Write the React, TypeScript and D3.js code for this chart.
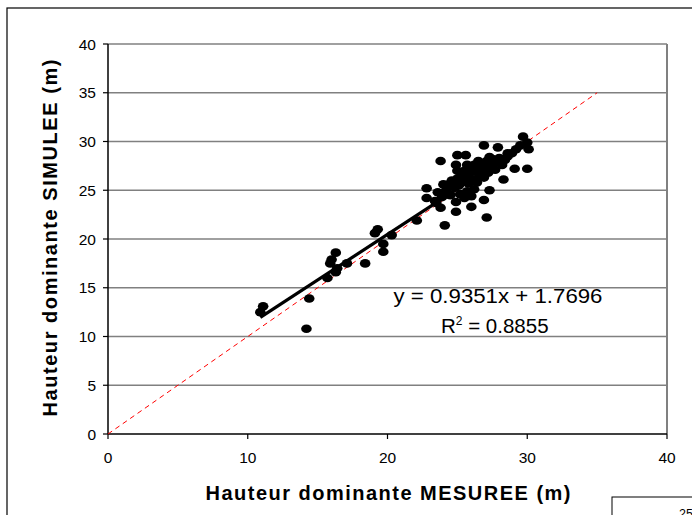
import React from "react";
import * as d3 from "d3";

const xTicks = [0, 10, 20, 30, 40];
const yTicks = [0, 5, 10, 15, 20, 25, 30, 35, 40];

const measured = [
  10.9, 11.1, 14.2, 14.4, 15.7, 16.3, 16.4, 15.9, 16.0, 16.3, 17.1, 18.4,
  19.7, 19.7, 19.1, 19.3, 20.3, 22.1, 22.8, 22.8, 23.5, 23.6, 23.8, 24.1,
  24.9, 26.0, 27.1, 26.9, 27.3, 28.3, 29.1, 30.0, 28.6, 24.9, 23.8, 25.0,
  25.6, 26.9, 27.9, 29.7, 30.0, 30.1,
  24.2, 24.4, 24.6, 24.8, 25.0, 25.1, 25.3, 25.4, 25.5, 25.6, 25.8, 25.9,
  26.0, 26.1, 26.2, 26.3, 26.4, 26.5, 26.6, 26.7, 26.8, 26.9, 27.0, 27.1,
  27.2, 27.4, 27.5, 27.7, 27.8, 28.0, 28.2, 28.4, 28.6, 28.9, 29.2, 29.5,
  25.2, 25.7, 26.2, 24.5, 23.9, 23.4, 24.0, 25.0, 25.7, 26.5, 27.3, 26.0,
  25.5, 24.9
];
const simulated = [
  12.5, 13.1, 10.8, 13.9, 16.0, 16.6, 17.0, 17.5, 17.9, 18.6, 17.5, 17.5,
  18.7, 19.5, 20.6, 21.0, 20.4, 21.9, 25.2, 24.2, 23.7, 24.8, 23.2, 21.4,
  22.8, 23.3, 22.2, 24.0, 25.0, 26.1, 27.2, 27.2, 28.8, 27.6, 28.0, 28.6,
  28.6, 29.6, 29.4, 30.5, 29.9, 29.2,
  25.0, 25.6, 26.0, 25.3, 26.2, 25.5, 26.6, 25.9, 27.0, 26.3, 25.7, 26.8,
  27.3, 26.1, 27.6, 26.9, 25.8, 27.2, 26.5, 27.8, 27.0, 26.3, 27.5, 28.0,
  26.8, 27.6, 28.2, 27.1, 27.9, 28.3, 27.6, 28.1, 28.5, 28.8, 29.2, 29.6,
  24.6, 24.9, 25.1, 24.5, 24.3, 23.9, 25.6, 27.0, 27.6, 28.0, 28.4, 24.4,
  24.2, 23.8
];

const slope = 0.9351;
const intercept = 1.7696;
const fitRange = [10.9, 30.1];
const identityRange = [0, 35];

export default function App() {
  const left = 108, right = 667, top = 44, bottom = 434;
  const x = d3.scaleLinear().domain([0, 40]).range([left, right]);
  const y = d3.scaleLinear().domain([0, 40]).range([bottom, top]);
  const font = "'Liberation Sans', Arial, sans-serif";
  const pts = measured.map((m, i) => [m, simulated[i]]);
  const line = d3.line<number[]>().x((d) => x(d[0])).y((d) => y(d[1]));
  const fitPts = fitRange.map((v) => [v, slope * v + intercept]);
  const idPts = identityRange.map((v) => [v, v]);

  return (
    <svg
      width={692}
      height={515}
      style={{ position: "absolute", left: 0, top: 0, background: "#fff" }}
      fontFamily={font}
    >
      <rect x={0} y={0} width={692} height={515} fill="#fff" />
      <rect x={7} y={8} width={720} height={600} fill="none" stroke="#000" strokeWidth={1.2} />
      {yTicks.filter((t) => t > 0).map((t) => (
        <line key={"g" + t} x1={left} x2={right} y1={y(t)} y2={y(t)} stroke="#808080" strokeWidth={1.5} />
      ))}
      <line x1={right} x2={right} y1={top} y2={bottom} stroke="#808080" strokeWidth={2} />
      <line x1={left} x2={left} y1={top} y2={bottom} stroke="#000" strokeWidth={1.5} />
      <line x1={left} x2={right} y1={bottom} y2={bottom} stroke="#000" strokeWidth={1.5} />
      {yTicks.map((t) => (
        <g key={"yt" + t}>
          <line x1={left - 5} x2={left} y1={y(t)} y2={y(t)} stroke="#000" strokeWidth={1.2} />
          <text x={left - 12} y={y(t) + 5.5} textAnchor="end" fontSize={15.5} fill="#000">{t}</text>
        </g>
      ))}
      {xTicks.map((t) => (
        <g key={"xt" + t}>
          <line x1={x(t)} x2={x(t)} y1={bottom} y2={bottom + 5} stroke="#000" strokeWidth={1.2} />
          <text x={x(t)} y={bottom + 29} textAnchor="middle" fontSize={15.5} fill="#000">{t}</text>
        </g>
      ))}
      <path d={line(idPts) || ""} stroke="#ff0000" strokeWidth={1} strokeDasharray="5,4" fill="none" />
      {pts.map((p, i) => (
        <ellipse key={i} cx={x(p[0])} cy={y(p[1])} rx={5.3} ry={4.3} fill="#000" />
      ))}
      <path d={line(fitPts) || ""} stroke="#000" strokeWidth={3.2} fill="none" />
      <text x={498} y={303} textAnchor="middle" fontSize={20.5} fill="#000" textLength={209} lengthAdjust="spacingAndGlyphs">
        y = 0.9351x + 1.7696
      </text>
      <text x={441} y={333} fontSize={20.5} fill="#000">
        R<tspan dy={-8} fontSize={12}>2</tspan><tspan dy={8}> = 0.8855</tspan>
      </text>
      <text x={388} y={500} textAnchor="middle" fontSize={20} fontWeight="bold" fill="#000" textLength={365} lengthAdjust="spacing">
        Hauteur dominante MESUREE (m)
      </text>
      <text
        transform={`translate(57,238) rotate(-90)`}
        textAnchor="middle"
        fontSize={20}
        fontWeight="bold"
        fill="#000"
        textLength={357}
        lengthAdjust="spacing"
      >
        Hauteur dominante SIMULEE (m)
      </text>
      <rect x={612} y={497} width={120} height={60} fill="#fff" stroke="#000" strokeWidth={1} />
      <text x={679} y={518} fontSize={12.5} fill="#000">25</text>
    </svg>
  );
}
